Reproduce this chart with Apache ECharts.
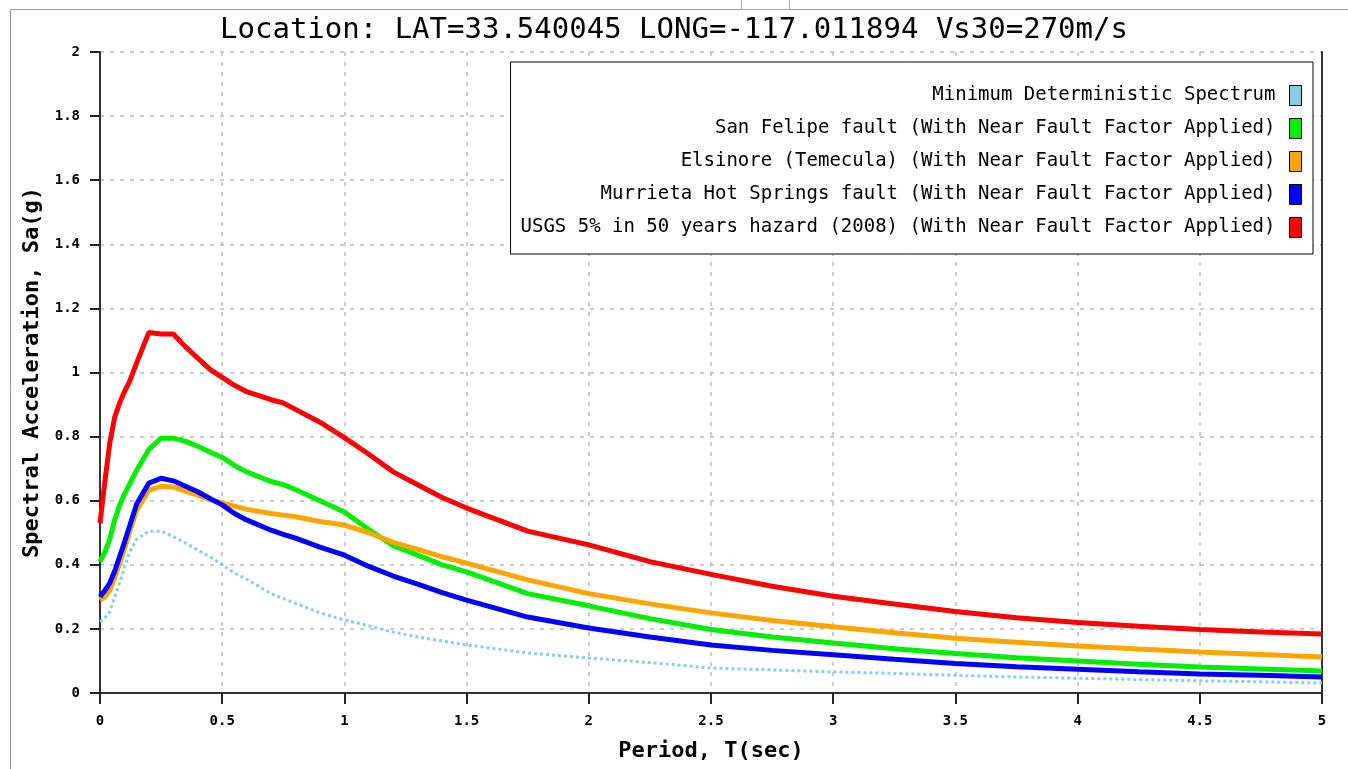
<!DOCTYPE html>
<html>
<head>
<meta charset="utf-8">
<script src="https://cdn.jsdelivr.net/npm/echarts@6/dist/echarts.min.js"></script>
<style>
html,body{margin:0;padding:0;background:#fff;}
#chart{width:1348px;height:769px;}
</style>
</head>
<body>
<div id="chart"></div>
<script>
const titleText = 'Location: LAT=33.540045 LONG=-117.011894 Vs30=270m/s';
const xName = 'Period, T(sec)';
const yName = 'Spectral Acceleration, Sa(g)';

const seriesNames = [
  'Minimum Deterministic Spectrum',
  'San Felipe fault (With Near Fault Factor Applied)',
  'Elsinore (Temecula) (With Near Fault Factor Applied)',
  'Murrieta Hot Springs fault (With Near Fault Factor Applied)',
  'USGS 5% in 50 years hazard (2008) (With Near Fault Factor Applied)'
];

const periods = [0, 0.02, 0.04, 0.06, 0.08, 0.1, 0.12, 0.15, 0.2, 0.25, 0.3, 0.35, 0.4, 0.45, 0.5, 0.55, 0.6, 0.7, 0.75, 0.8, 0.9, 1.0, 1.1, 1.2, 1.3, 1.4, 1.5, 1.75, 2.0, 2.25, 2.5, 2.75, 3.0, 3.25, 3.5, 3.75, 4.0, 4.25, 4.5, 4.75, 5.0];

const minDeterministic = [0.222, 0.235, 0.253, 0.3, 0.343, 0.39, 0.437, 0.48, 0.505, 0.505, 0.488, 0.468, 0.446, 0.425, 0.4, 0.375, 0.355, 0.31, 0.295, 0.28, 0.25, 0.228, 0.21, 0.19, 0.175, 0.162, 0.15, 0.125, 0.109, 0.095, 0.078, 0.072, 0.066, 0.061, 0.055, 0.05, 0.046, 0.042, 0.038, 0.035, 0.031];

const sanFelipe = [0.41, 0.44, 0.48, 0.54, 0.585, 0.62, 0.65, 0.695, 0.76, 0.795, 0.795, 0.785, 0.77, 0.752, 0.735, 0.71, 0.69, 0.66, 0.65, 0.635, 0.6, 0.565, 0.51, 0.46, 0.43, 0.4, 0.378, 0.31, 0.272, 0.232, 0.198, 0.175, 0.156, 0.138, 0.123, 0.11, 0.1, 0.09, 0.081, 0.075, 0.069];

const elsinore = [0.29, 0.3, 0.32, 0.36, 0.405, 0.45, 0.5, 0.57, 0.633, 0.645, 0.643, 0.63, 0.617, 0.603, 0.593, 0.583, 0.573, 0.56, 0.555, 0.55, 0.535, 0.524, 0.5, 0.47, 0.448, 0.425, 0.405, 0.353, 0.31, 0.278, 0.25, 0.226, 0.207, 0.188, 0.171, 0.158, 0.147, 0.137, 0.128, 0.12, 0.112];

const murrieta = [0.3, 0.32, 0.343, 0.38, 0.425, 0.47, 0.518, 0.59, 0.655, 0.67, 0.662, 0.645, 0.628, 0.607, 0.587, 0.56, 0.54, 0.508, 0.495, 0.483, 0.455, 0.43, 0.395, 0.365, 0.34, 0.313, 0.29, 0.237, 0.203, 0.175, 0.15, 0.133, 0.119, 0.105, 0.092, 0.082, 0.074, 0.066, 0.059, 0.055, 0.05];

const usgs = [0.53, 0.66, 0.78, 0.86, 0.905, 0.94, 0.97, 1.03, 1.125, 1.12, 1.12, 1.08, 1.045, 1.01, 0.985, 0.96, 0.94, 0.915, 0.905, 0.885, 0.845, 0.797, 0.745, 0.69, 0.65, 0.61, 0.577, 0.505, 0.462, 0.41, 0.37, 0.333, 0.302, 0.278, 0.254, 0.235, 0.22, 0.208, 0.198, 0.19, 0.184];

const seriesValues = [minDeterministic, sanFelipe, elsinore, murrieta, usgs];
const seriesColors = ['#87CEEB', '#00EE00', '#FFA500', '#0000FF', '#FF0000'];

const mono = 'DejaVu Sans Mono';

const chart = echarts.init(document.getElementById('chart'));

const series = seriesNames.map((name, i) => ({
  name: name,
  type: 'line',
  data: periods.map((t, j) => [t, seriesValues[i][j]]),
  showSymbol: false,
  symbol: 'none',
  smooth: false,
  z: 2 + i,
  color: seriesColors[i],
  lineStyle: {
    color: seriesColors[i],
    width: i === 0 ? 3 : 5,
    type: i === 0 ? [3, 3] : 'solid'
  },
  itemStyle: { color: seriesColors[i] },
  emphasis: { disabled: true }
}));

chart.setOption({
  animation: false,
  backgroundColor: '#fff',
  title: {
    text: titleText,
    left: 'center',
    top: 11,
    textStyle: { fontFamily: mono, fontSize: 29, fontWeight: 'normal', color: '#000' }
  },
  grid: { left: 100, right: 26, top: 52, bottom: 76, containLabel: false },
  legend: {
    orient: 'vertical',
    right: 35,
    top: 62,
    align: 'right',
    icon: 'rect',
    itemWidth: 12,
    itemHeight: 20,
    itemGap: 12,
    padding: [23, 11, 16, 10],
    backgroundColor: '#fff',
    borderColor: '#000',
    borderWidth: 1,
    borderRadius: 0,
    selectedMode: false,
    itemStyle: { borderColor: '#000', borderWidth: 1, borderType: 'solid' },
    textStyle: { fontFamily: mono, fontSize: 19, color: '#000', padding: [0, 9, 0, 0] },
    data: seriesNames.slice()
  },
  xAxis: {
    type: 'value',
    min: 0,
    max: 5,
    interval: 0.5,
    name: xName,
    nameLocation: 'middle',
    nameGap: 47,
    nameTextStyle: { fontFamily: mono, fontSize: 22, fontWeight: 'bold', color: '#000' },
    axisLine: { show: true, onZero: false, lineStyle: { color: '#333', width: 2 } },
    axisTick: { show: true, length: 11, lineStyle: { color: '#222', width: 2 } },
    axisLabel: { fontFamily: mono, fontSize: 14, fontWeight: 'bold', color: '#000', margin: 21 },
    splitLine: { show: true, lineStyle: { color: '#bbb', width: 1.5, type: [4, 6] } }
  },
  yAxis: [{
    type: 'value',
    min: 0,
    max: 2,
    interval: 0.2,
    name: yName,
    nameLocation: 'middle',
    nameGap: 57,
    nameTextStyle: { fontFamily: mono, fontSize: 22, fontWeight: 'bold', color: '#000' },
    axisLine: { show: true, lineStyle: { color: '#333', width: 2 } },
    axisTick: { show: true, length: 10, lineStyle: { color: '#222', width: 2 } },
    axisLabel: { fontFamily: mono, fontSize: 14, fontWeight: 'bold', color: '#000', margin: 20 },
    splitLine: { show: true, lineStyle: { color: '#bbb', width: 1.5, type: [4, 6] } }
  }, {
    type: 'value',
    min: 0,
    max: 2,
    interval: 0.2,
    position: 'right',
    axisLine: { show: true, lineStyle: { color: '#333', width: 2 } },
    axisTick: { show: false },
    axisLabel: { show: false },
    splitLine: { show: false }
  }],
  graphic: [
    { type: 'rect', silent: true, shape: { x: 10.5, y: 9.5, width: 1345, height: 780 }, style: { fill: 'none', stroke: '#999', lineWidth: 1 }, z: -10 },
    { type: 'rect', silent: true, shape: { x: 741.5, y: -2, width: 48, height: 11.5 }, style: { fill: '#fff', stroke: '#aaa', lineWidth: 1 }, z: -10 }
  ],
  series: series
});
</script>
</body>
</html>
